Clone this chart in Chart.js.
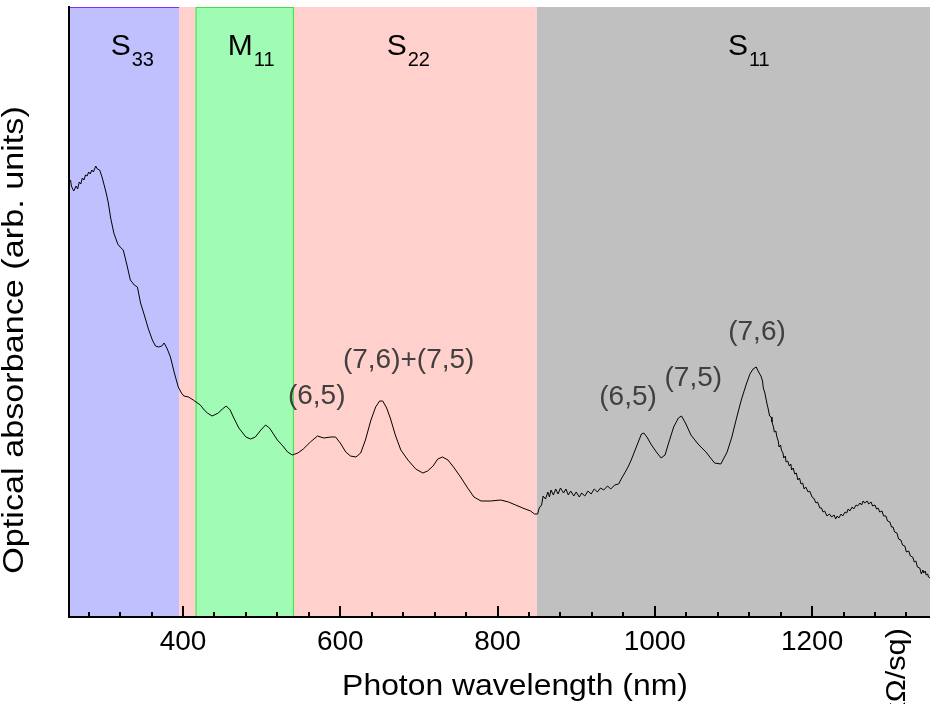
<!DOCTYPE html>
<html>
<head>
<meta charset="utf-8">
<script src="https://cdn.jsdelivr.net/npm/chart.js@4.4.0/dist/chart.umd.min.js"></script>
<style>
    html, body { margin: 0; padding: 0; background: #fff; }
    #wrap { width: 930px; height: 704px; }
</style>
</head>
<body>
<div id="wrap"><canvas id="absChart" width="930" height="704"></canvas></div>
<script>
// spectrum (nm, arb. units)
const wavelength = [
    257, 258, 261, 264, 266, 268, 270, 272, 274, 276, 278, 280, 282, 284, 286, 289, 291, 294, 297, 299,
    302, 305, 308, 312, 317, 320, 324, 329, 333, 338, 342, 346, 350, 356, 361, 365, 369, 373, 376, 380,
    384, 389, 394, 398, 401, 407, 413, 422, 427, 431, 437, 445, 450, 455, 460, 464, 471, 480, 486, 492,
    499, 505, 510, 515, 520, 527, 533, 539, 546, 553, 562, 571, 579, 588, 594, 600, 607, 613, 620, 626,
    632, 639, 645, 650, 654, 659, 664, 670, 677, 686, 696, 705, 711, 718, 724, 730, 737, 744, 753, 762,
    770, 779, 791, 804, 814, 823, 832, 842, 847, 851, 853, 856, 858, 861, 864, 866, 868, 871, 874, 877,
    880, 884, 887, 890, 893, 897, 900, 904, 907, 911, 915, 919, 923, 927, 931, 935, 940, 944, 949, 954,
    958, 961, 966, 970, 974, 980, 983, 986, 990, 995, 1002, 1008, 1013, 1018, 1024, 1030, 1034, 1039, 1046, 1055,
    1065, 1071, 1076, 1084, 1092, 1098, 1104, 1110, 1116, 1121, 1125, 1129, 1132,
    1135, 1137, 1138, 1140, 1141, 1143, 1144, 1146, 1148, 1149, 1151, 1152, 1154, 1155, 1157, 1158, 1160, 1161, 1163, 1164,
    1166, 1167, 1169, 1171, 1173, 1174, 1176, 1178, 1180, 1182, 1184, 1186, 1188, 1190, 1192, 1195, 1197, 1200, 1202, 1205,
    1207, 1210, 1212, 1214, 1216, 1219, 1222, 1225, 1228, 1230, 1232, 1234, 1237, 1239, 1242, 1244, 1246, 1248, 1251, 1253,
    1256, 1258, 1261, 1263, 1265, 1267, 1270, 1272, 1275, 1277, 1280, 1282, 1284, 1286, 1289, 1291, 1294, 1296, 1299, 1301,
    1303, 1305, 1308, 1310, 1313, 1315, 1318, 1320, 1323, 1325, 1328, 1330, 1332, 1334, 1337, 1339, 1341, 1342, 1344, 1345,
    1347, 1348, 1350
];
const absorbance = [
    4.37, 4.31, 4.26, 4.31, 4.28, 4.35, 4.33, 4.39, 4.37, 4.42, 4.41, 4.45, 4.43, 4.47, 4.45, 4.51, 4.48, 4.47, 4.40, 4.34,
    4.25, 4.14, 3.99, 3.84, 3.73, 3.70, 3.67, 3.51, 3.37, 3.32, 3.30, 3.14, 3.04, 2.88, 2.77, 2.71, 2.70, 2.71, 2.74, 2.68,
    2.60, 2.44, 2.30, 2.24, 2.21, 2.20, 2.17, 2.12, 2.07, 2.04, 2.01, 2.04, 2.08, 2.11, 2.07, 2.00, 1.89, 1.80, 1.78, 1.80,
    1.87, 1.92, 1.89, 1.83, 1.77, 1.71, 1.65, 1.62, 1.64, 1.68, 1.75, 1.81, 1.79, 1.80, 1.80, 1.74, 1.65, 1.61, 1.60, 1.64,
    1.77, 1.97, 2.10, 2.16, 2.16, 2.09, 1.98, 1.82, 1.67, 1.57, 1.48, 1.44, 1.46, 1.51, 1.58, 1.60, 1.57, 1.50, 1.40, 1.29,
    1.20, 1.16, 1.16, 1.17, 1.15, 1.12, 1.09, 1.06, 1.03, 1.03, 1.09, 1.12, 1.21, 1.18, 1.25, 1.20, 1.27, 1.22, 1.28, 1.23,
    1.29, 1.24, 1.28, 1.22, 1.26, 1.21, 1.25, 1.20, 1.24, 1.21, 1.26, 1.23, 1.28, 1.25, 1.29, 1.27, 1.31, 1.28, 1.32, 1.33,
    1.39, 1.43, 1.50, 1.57, 1.65, 1.77, 1.83, 1.84, 1.80, 1.73, 1.65, 1.59, 1.62, 1.75, 1.90, 1.99, 2.01, 1.94, 1.82, 1.73,
    1.65, 1.59, 1.54, 1.53, 1.65, 1.80, 1.99, 2.17, 2.32, 2.43, 2.48, 2.50, 2.45,
    2.41, 2.36, 2.29, 2.24, 2.20, 2.12, 2.09, 2.01, 2.00, 1.95, 1.90, 1.85, 1.86, 1.81, 1.76, 1.70, 1.72, 1.67, 1.64, 1.59,
    1.61, 1.55, 1.56, 1.51, 1.53, 1.47, 1.49, 1.43, 1.44, 1.37, 1.39, 1.33, 1.34, 1.28, 1.30, 1.25, 1.26, 1.20, 1.19, 1.14,
    1.15, 1.09, 1.09, 1.05, 1.06, 1.01, 1.03, 1.00, 1.02, 0.98, 1.01, 0.99, 1.03, 1.01, 1.05, 1.04, 1.08, 1.06, 1.10, 1.08,
    1.12, 1.11, 1.14, 1.12, 1.16, 1.14, 1.16, 1.13, 1.15, 1.11, 1.12, 1.08, 1.09, 1.05, 1.06, 1.01, 1.01, 0.96, 0.95, 0.90,
    0.90, 0.85, 0.84, 0.78, 0.77, 0.72, 0.71, 0.65, 0.66, 0.61, 0.60, 0.55, 0.56, 0.50, 0.49, 0.43, 0.47, 0.44, 0.46, 0.42,
    0.43, 0.40, 0.39
];

const xTickLabels = [400, 600, 800, 1000, 1200];
const xMinorTicks = [280, 320, 360, 440, 480, 520, 560, 640, 680, 720, 760, 840, 880, 920, 960, 1040, 1080, 1120, 1160, 1240, 1280, 1320];

// shaded transition regions (nm)
const bandStart = [255, 395, 416, 850];
const bandEnd = [395, 850, 541, 1350];
const bandMain = ['S', 'M', 'S', 'S'];
const bandSub = ['33', '11', '22', '11'];
const bandLabelAt = [308, 457, 659, 1093];

// chirality labels
const peakLabels = ['(6,5)', '(7,6)+(7,5)', '(6,5)', '(7,5)', '(7,6)'];
const peakX = [570, 687, 966, 1049, 1130];
const peakY = [2.21, 2.57, 2.20, 2.39, 2.85];

const bandFill = ['#c0c0ff', '#ffd0cc', '#a0fcb4', '#c0c0c0'];
const FONT = "'Liberation Sans', Arial, sans-serif";

function stretchedText(ctx, text, x, y, angle, sx) {
    ctx.save();
    ctx.translate(x, y);
    ctx.rotate(angle);
    ctx.scale(sx, 1);
    ctx.fillText(text, 0, 0);
    ctx.restore();
}

const decorPlugin = {
    id: 'decor',
    beforeDraw(chart) {
        const { ctx, chartArea: a, scales: { x } } = chart;
        ctx.save();
        for (let i = 0; i < bandStart.length; i++) {
            const x0 = x.getPixelForValue(bandStart[i]);
            const x1 = x.getPixelForValue(bandEnd[i]);
            ctx.fillStyle = bandFill[i];
            ctx.fillRect(x0, a.top, x1 - x0, a.bottom - a.top);
        }
        // S33 outline (top and left only), M11 outline
        let x0 = x.getPixelForValue(bandStart[0]);
        let x1 = x.getPixelForValue(bandEnd[0]);
        ctx.strokeStyle = '#7f2fff';
        ctx.lineWidth = 1;
        ctx.beginPath();
        ctx.moveTo(x0 + 0.5, a.bottom);
        ctx.lineTo(x0 + 0.5, a.top + 0.5);
        ctx.lineTo(x1, a.top + 0.5);
        ctx.stroke();
        x0 = x.getPixelForValue(bandStart[2]);
        x1 = x.getPixelForValue(bandEnd[2]);
        ctx.strokeStyle = '#40e040';
        ctx.strokeRect(x0 + 0.5, a.top + 0.5, x1 - x0 - 1, a.bottom - a.top);
        ctx.restore();
    },
    afterDraw(chart) {
        const { ctx, chartArea: a, scales: { x, y } } = chart;
        ctx.save();

        // inward ticks
        ctx.strokeStyle = '#000';
        ctx.lineWidth = 2;
        ctx.beginPath();
        for (const v of xTickLabels) {
            const px = Math.round(x.getPixelForValue(v));
            ctx.moveTo(px, a.bottom);
            ctx.lineTo(px, a.bottom - 11);
        }
        for (const v of xMinorTicks) {
            const px = Math.round(x.getPixelForValue(v));
            ctx.moveTo(px, a.bottom);
            ctx.lineTo(px, a.bottom - 5);
        }
        ctx.stroke();

        // band names with subscripts
        ctx.fillStyle = '#000';
        ctx.textBaseline = 'alphabetic';
        ctx.textAlign = 'left';
        for (let i = 0; i < bandMain.length; i++) {
            const px = x.getPixelForValue(bandLabelAt[i]);
            ctx.font = '30px ' + FONT;
            ctx.fillText(bandMain[i], px, a.top + 48);
            const w = ctx.measureText(bandMain[i]).width;
            ctx.font = '20px ' + FONT;
            ctx.fillText(bandSub[i], px + w + 1, a.top + 59);
        }

        // peak labels
        ctx.fillStyle = '#404040';
        ctx.font = '28px ' + FONT;
        ctx.textAlign = 'center';
        ctx.textBaseline = 'middle';
        for (let i = 0; i < peakLabels.length; i++) {
            ctx.fillText(peakLabels[i], x.getPixelForValue(peakX[i]), y.getPixelForValue(peakY[i]));
        }

        // axis titles
        ctx.fillStyle = '#000';
        ctx.font = '29px ' + FONT;
        stretchedText(ctx, 'Photon wavelength (nm)', 515, 687, 0, 1.1);
        ctx.font = '30px ' + FONT;
        stretchedText(ctx, 'Optical absorbance (arb. units)', 15, 340, -Math.PI / 2, 1.14);

        // right axis title, mostly cut off
        ctx.textAlign = 'right';
        ctx.font = '28px ' + FONT;
        stretchedText(ctx, '(k\u03A9/sq)', 897, 628, -Math.PI / 2, 1.1);

        ctx.restore();
    }
};

const absChart = new Chart(document.getElementById('absChart'), {
    type: 'line',
    data: {
        datasets: [{
            label: 'Absorbance',
            data: wavelength.map((w, i) => ({ x: w, y: absorbance[i] })),
            borderColor: '#000',
            borderWidth: 1,
            pointRadius: 0,
            tension: 0,
            fill: false
        }]
    },
    options: {
        responsive: false,
        animation: false,
        devicePixelRatio: 1,
        layout: { padding: { top: 7, left: 0, right: 0, bottom: 0 } },
        plugins: {
            legend: { display: false },
            tooltip: { enabled: false }
        },
        scales: {
            x: {
                type: 'linear',
                min: 255,
                max: 1350,
                grid: { display: false, drawTicks: false },
                border: { display: true, color: '#000', width: 2 },
                afterBuildTicks: (scale) => {
                    scale.ticks = xTickLabels.map(v => ({ value: v }));
                },
                afterFit: (scale) => { scale.height = 87; },
                ticks: {
                    color: '#000',
                    padding: 8,
                    maxRotation: 0,
                    font: { family: FONT, size: 28 },
                    callback: (v) => String(v)
                }
            },
            y: {
                min: 0,
                max: 6.1,
                grid: { display: false, drawTicks: false },
                border: { display: true, color: '#000', width: 2 },
                ticks: { display: false },
                afterFit: (scale) => { scale.width = 69; }
            }
        }
    },
    plugins: [decorPlugin]
});
</script>
</body>
</html>
